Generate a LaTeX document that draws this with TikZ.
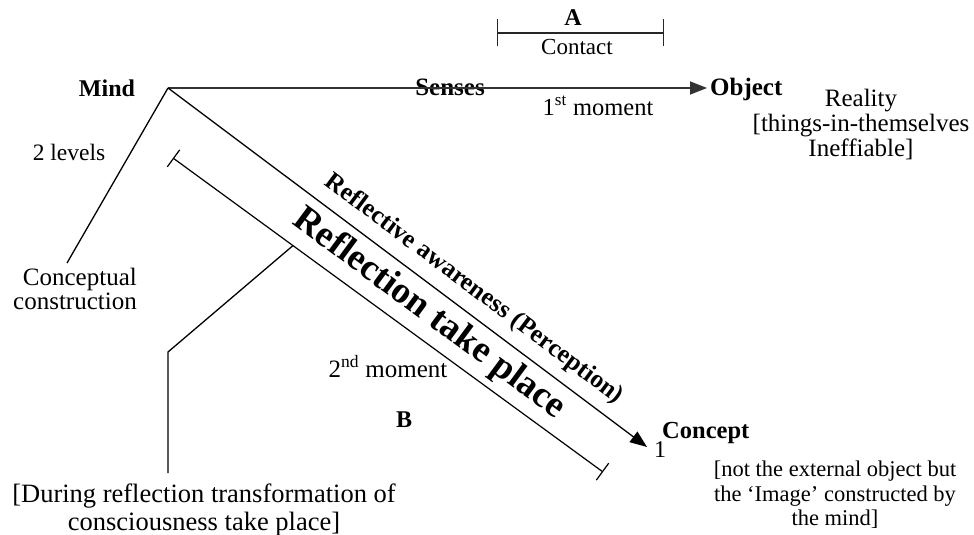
\documentclass[tikz,border=0pt]{standalone}
\usepackage{fontspec}
\setmainfont{Liberation Serif}
\usetikzlibrary{arrows.meta,calc}
\begin{document}
\begin{tikzpicture}[x=1pt,y=-1pt,
  lbl/.style={inner sep=0pt, font=\fontsize{24}{27}\selectfont},
  blbl/.style={inner sep=0pt, font=\fontsize{24}{27}\selectfont\bfseries},
  ln/.style={line width=1.3pt, black},
  arr/.style={ln, -{Triangle[length=17pt,width=13pt]}},
  barred/.style={line width=1.2pt, black, {Bar[width=21pt]}-{Bar[width=21pt]}},
]
\useasboundingbox (0,0) rectangle (974,535);
% key points
\coordinate (apex) at (168,88);
\coordinate (objtip) at (707,88);
\coordinate (contip) at (647,447);
\coordinate (p1) at (173,158);
\coordinate (p2) at (603,472);
\coordinate (br) at ($(p1)!0.279!(p2)$);
\coordinate (cctop) at (67,263);
\coordinate (elbow) at (168,352);
\coordinate (dtop) at (168,473);
\coordinate (ca) at (497,33);
\coordinate (cb) at (664,33);

% top bracket
\node[blbl, anchor=base] (A) at (573,26) {A};
\draw[line width=1.2pt, black!85, {Bar[width=27pt]}-{Bar[width=27pt]}] (ca) -- (cb);
\node[lbl, anchor=base, font=\fontsize{23}{26}\selectfont] (contact) at (577,55) {Contact};

% labels
\node[blbl, anchor=base] (mind) at (107,96) {Mind};
\node[blbl, anchor=base, font=\fontsize{25}{28}\selectfont\bfseries] (senses) at (450,95) {Senses};
\node[blbl, anchor=base west, font=\fontsize{25}{28}\selectfont\bfseries] (object) at (710,95) {Object};
\node[lbl, anchor=base, font=\fontsize{24.5}{27}\selectfont] (first) at (598,115) {1\textsuperscript{st} moment};
\node[lbl, anchor=north, align=center, font=\fontsize{25}{25}\selectfont] (reality) at (861,89) {Reality\\{[}things-in-themselves\\Ineffiable{]}};
\node[lbl, anchor=base, font=\fontsize{23.5}{26}\selectfont] (levels) at (69,160) {2 levels};
\node[lbl, anchor=north east, align=right, font=\fontsize{25}{24}\selectfont] (concept-c) at (137,268) {Conceptual\\construction};
\node[lbl, anchor=base, font=\fontsize{25}{28}\selectfont] (second) at (388,377) {2\textsuperscript{nd} moment};
\node[blbl, anchor=base] (B) at (404,427) {B};
\node[blbl, anchor=base west, font=\fontsize{24.5}{27}\selectfont\bfseries] (concept) at (662,438) {Concept};
\node[lbl, anchor=base] (one) at (660,457) {1};
\node[lbl, anchor=north, align=center, font=\fontsize{22.5}{24.5}\selectfont] (image) at (835,461) {{[}not the external object but\\the ‘Image’ constructed by\\the mind{]}};
\node[lbl, anchor=north, align=center, font=\fontsize{26.5}{28}\selectfont] (during) at (204,484) {{[}During reflection transformation of\\consciousness take place{]}};

% diagonal texts
\node[inner sep=0pt, rotate=-36.8, font=\fontsize{25.5}{28}\selectfont\bfseries] (refaw) at (474,289) {Reflective awareness (Perception)};
\node[inner sep=0pt, rotate=-36.5, font=\fontsize{37}{40}\selectfont\bfseries] (reftp) at (429,314) {Reflection take place};

% connectors
\draw[arr, line width=1.5pt, black!80] (apex) -- (objtip);
\draw[arr] (apex) -- (contip);
\draw[ln] (apex) -- (cctop);
\draw[barred] (p1) -- (p2);
\draw[ln] (br) -- (elbow) -- (dtop);
\end{tikzpicture}
\end{document}
